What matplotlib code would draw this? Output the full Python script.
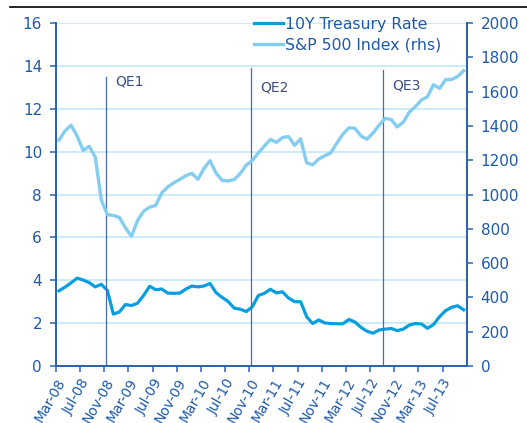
import numpy as np
import matplotlib
matplotlib.use("Agg")
import matplotlib.pyplot as plt
from matplotlib.lines import Line2D

# monthly data, Mar-08 .. Oct-13
treasury_10y = [3.51, 3.68, 3.88, 4.10, 4.01, 3.89, 3.69, 3.81, 3.53, 2.42,
                2.52, 2.87, 2.82, 2.93, 3.29, 3.72, 3.56, 3.59, 3.40, 3.39, 3.40, 3.59,
                3.73, 3.69, 3.73, 3.85, 3.42, 3.20, 3.01, 2.70, 2.65, 2.54, 2.76, 3.29,
                3.39, 3.58, 3.41, 3.46, 3.17, 3.00, 3.00, 2.30, 1.98, 2.15, 2.01, 1.98,
                1.97, 1.97, 2.17, 2.05, 1.80, 1.62, 1.53, 1.68, 1.72, 1.75, 1.65, 1.72,
                1.91, 1.98, 1.96, 1.76, 1.93, 2.30, 2.58, 2.74, 2.81, 2.62]
sp500 = [1317, 1371, 1404, 1341, 1257, 1281, 1217, 969, 883, 878,
         866, 806, 757, 848, 902, 926, 936, 1009, 1044, 1068, 1088, 1110,
         1123, 1089, 1152, 1197, 1125, 1083, 1079, 1087, 1122, 1171, 1198, 1242,
         1283, 1321, 1304, 1332, 1338, 1287, 1325, 1185, 1173, 1207, 1226, 1243,
         1300, 1352, 1389, 1386, 1341, 1323, 1359, 1404, 1444, 1437, 1394, 1422,
         1480, 1512, 1551, 1570, 1640, 1619, 1669, 1671, 1688, 1721]
tick_labels = ["Mar-08", "Jul-08", "Nov-08", "Mar-09", "Jul-09", "Nov-09",
               "Mar-10", "Jul-10", "Nov-10", "Mar-11", "Jul-11", "Nov-11",
               "Mar-12", "Jul-12", "Nov-12", "Mar-13", "Jul-13"]
qe_names = ["QE1", "QE2", "QE3"]
qe_pos = [7.7, 31.8, 53.6]
qe_top = [13.5, 13.9, 13.8]
qe_label_y = [13.25, 13.0, 13.1]

c_10y = "#0a9ee0"
c_sp = "#85cdf0"
c_axis = "#2b63ae"
c_text = "#1e5aa8"
c_grid = "#bde6f7"
c_qe = "#4a6ab0"

fig = plt.figure(figsize=(5.27, 4.23), dpi=100)
ax = fig.add_axes([56/527, 57/423, 410.7/527, 343/423])
ax2 = ax.twinx()

x = np.arange(len(sp500))

ax.set_ylim(0, 16)
ax.set_yticks(np.arange(0, 17, 2))
ax.yaxis.grid(True, color=c_grid, lw=1.1)
ax.set_axisbelow(True)
ax2.set_ylim(0, 2000)
ax2.set_yticks(np.arange(0, 2001, 200))

ax.set_xlim(-0.5, len(sp500) - 0.5)
ax.set_xticks(np.arange(0, 4 * len(tick_labels), 4) - 0.5)
ax.set_xticklabels(tick_labels, rotation=60, ha="right", va="top",
                   rotation_mode="anchor")

ax.plot(x, treasury_10y, color=c_10y, lw=2.3, solid_joinstyle="round")
ax2.plot(x, sp500, color=c_sp, lw=2.4, solid_joinstyle="round")

for name, xp, top, ly in zip(qe_names, qe_pos, qe_top, qe_label_y):
    ax.plot([xp, xp], [0, top], color=c_qe, lw=0.9)
    ax.text(xp + 1.6, ly, name, color="#3d4f86", fontsize=10,
            va="center", ha="left")

for a in (ax, ax2):
    a.spines["top"].set_visible(False)
    for s in ("left", "right", "bottom"):
        a.spines[s].set_color(c_axis)
        a.spines[s].set_linewidth(1.3)
    a.tick_params(colors=c_axis, labelcolor=c_text, labelsize=11,
                  length=4, width=1.1)
ax.tick_params(axis="x", labelsize=10, pad=3)
ax.tick_params(axis="y", pad=6)
ax2.tick_params(axis="y", pad=6)

handles = [Line2D([], [], color=c_10y, lw=2.3),
           Line2D([], [], color=c_sp, lw=2.4)]
leg = ax2.legend(handles, ["10Y Treasury Rate", "S&P 500 Index (rhs)"],
                 loc="upper left", bbox_to_anchor=(0.482, 1.018), frameon=False,
                 fontsize=11.3, handlelength=1.85, handletextpad=0.15,
                 labelspacing=0.35, borderpad=0, borderaxespad=0)
for t in leg.get_texts():
    t.set_color(c_text)

fig.add_artist(Line2D([10/527, 1], [1 - 7/423, 1 - 7/423], color="black",
                      lw=1.2, transform=fig.transFigure))

fig.savefig("out.png", dpi=100)
